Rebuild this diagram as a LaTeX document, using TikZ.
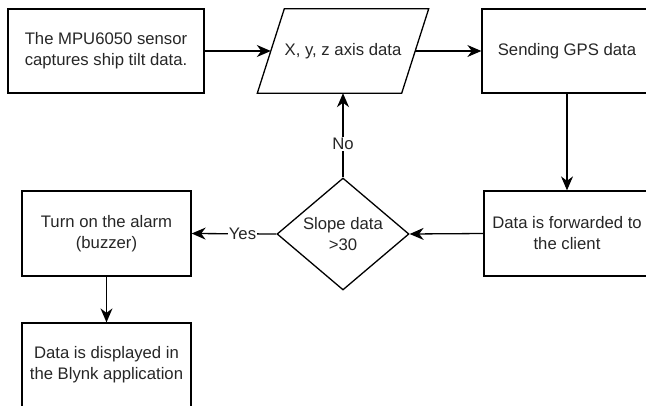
\documentclass[tikz,border=0pt]{standalone}
\usepackage{fontspec}
\setmainfont{Liberation Sans}
\usetikzlibrary{arrows.meta,shapes.geometric,calc}

\begin{document}
\begin{tikzpicture}[x=1pt,y=-1pt,
  every node/.style={font=\fontsize{16.7}{21}\selectfont, text=black!85},
  box/.style={draw, line width=1.3pt, align=center, inner sep=0pt},
  flow/.style={draw, line width=1.3pt, -{Stealth[length=14pt,width=12pt,inset=4.5pt]}},
  lbl/.style={fill=white, inner sep=1pt}]
\useasboundingbox (0,0) rectangle (646,405);
\begin{scope}
\clip (0,0) rectangle (646,405);

% process boxes
\node[box, minimum width=196pt, minimum height=84pt] (sensor) at (106,51)
  {The MPU6050 sensor\\captures ship tilt data.};
\node[align=center, inner sep=0pt, minimum width=144pt, minimum height=84pt] (axis) at (343,51)
  {X, y, z axis data};
\draw[line width=1.3pt]
  ($(axis.north west)+(13.5,0)$) -- ($(axis.north east)+(13.5,0)$) --
  ($(axis.south east)+(-13.5,0)$) -- ($(axis.south west)+(-13.5,0)$) -- cycle;
\node[box, minimum width=170pt, minimum height=84pt] (gps) at (567,51)
  {Sending GPS data};
\node[box, minimum width=166pt, minimum height=85pt] (client) at (567,233.5)
  {Data is forwarded to\\the client};
\node[box, shape=diamond, aspect=1.18, minimum width=132pt, minimum height=112pt] (slope) at (343,234)
  {Slope data\\>30};
\node[box, minimum width=169pt, minimum height=85pt] (alarm) at (106.5,233.5)
  {Turn on the alarm\\(buzzer)};
\node[box, minimum width=169pt, minimum height=84pt] (blynk) at (106.5,365)
  {Data is displayed in\\the Blynk application};

% connectors
\draw[flow] (sensor.east) -- (axis.west);
\draw[flow] (axis.east) -- (gps.west);
\draw[flow] (gps.south) -- (client.north);
\draw[flow] (client.west) -- (slope.east);
\draw[flow] (slope.north) -- node[lbl, pos=0.4] {No} (axis.south);
\draw[flow] (slope.west) -- node[lbl, pos=0.4] {Yes} (alarm.east);
\draw[flow] (alarm.south) -- (blynk.north);
\end{scope}
\end{tikzpicture}
\end{document}
